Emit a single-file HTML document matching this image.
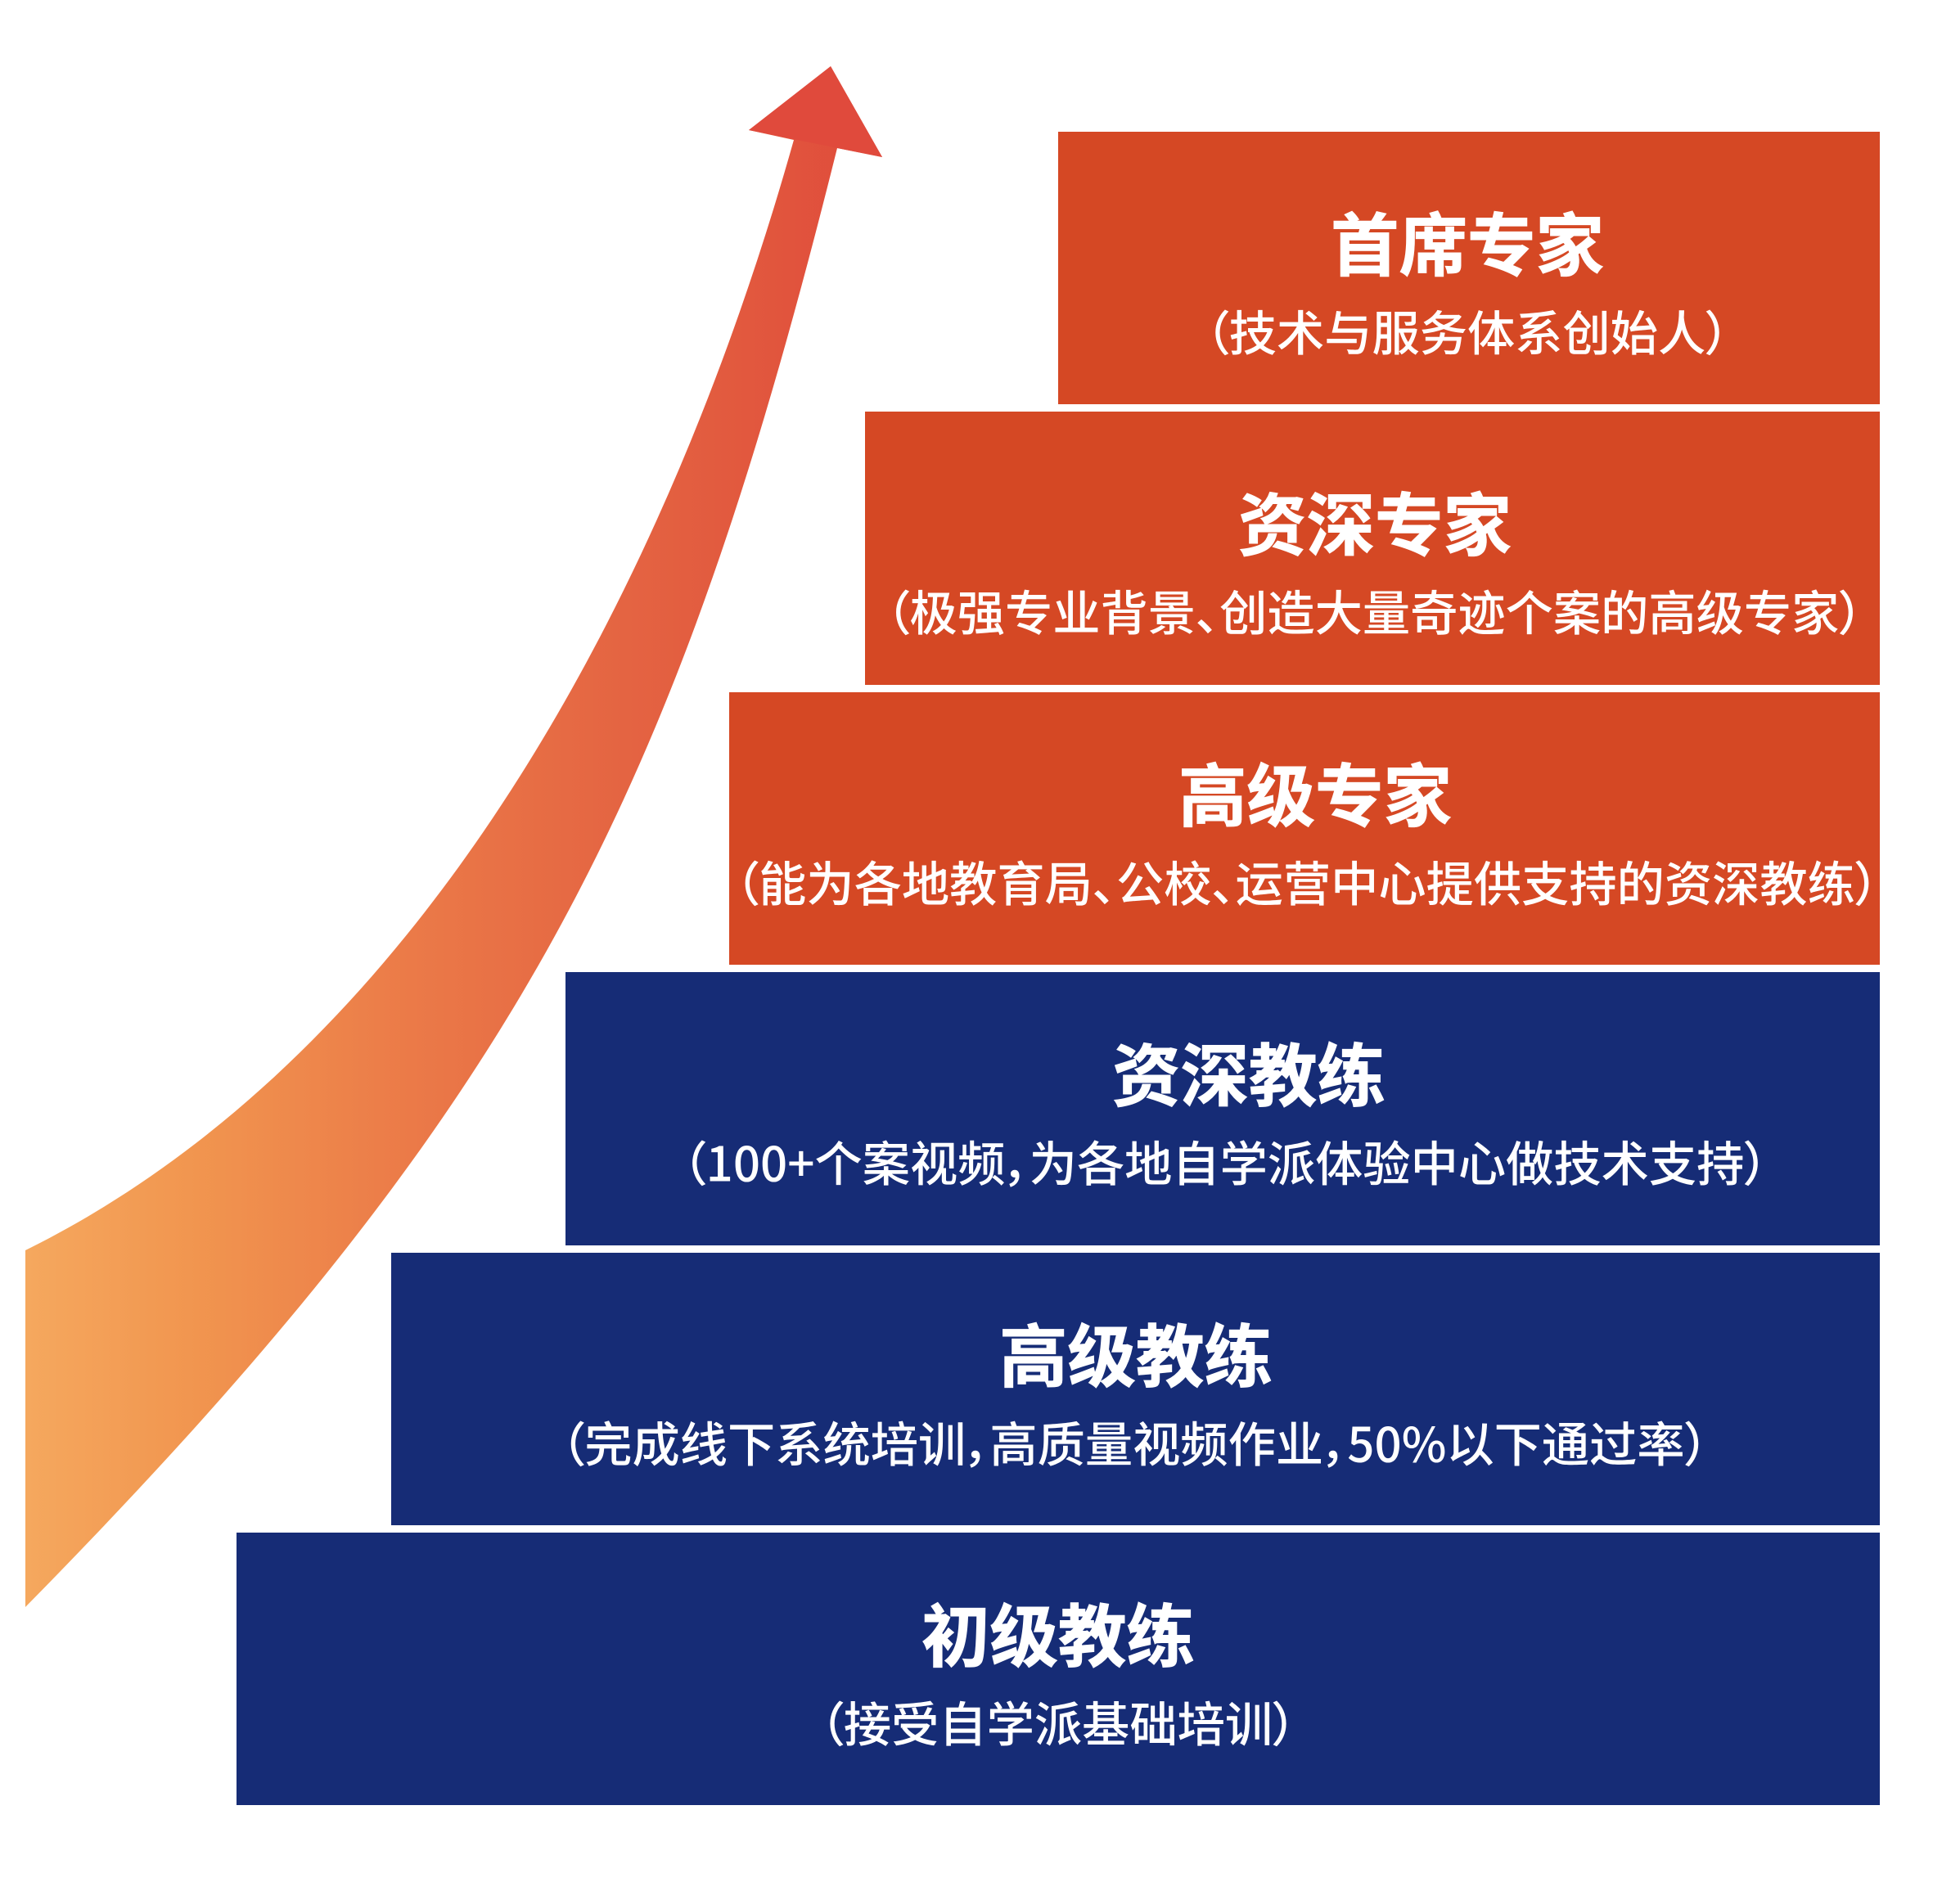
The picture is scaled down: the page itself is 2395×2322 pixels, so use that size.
<!DOCTYPE html>
<html lang="zh">
<head>
<meta charset="utf-8">
<style>
html,body{margin:0;padding:0;background:#fff;width:2395px;height:2322px;overflow:hidden}
svg{display:block}
text{fill:#fff;text-anchor:middle;font-family:"Noto Sans CJK SC","Liberation Sans",sans-serif;font-feature-settings:"palt" 1}
.t{font-size:83.5px;font-weight:700;stroke:#fff;stroke-width:1px}
.s{font-size:58.25px;font-weight:500}
</style>
</head>
<body>
<svg width="2395" height="2322" viewBox="0 0 2395 2322" xmlns="http://www.w3.org/2000/svg">
<defs>
<linearGradient id="g" gradientUnits="userSpaceOnUse" x1="31" y1="0" x2="1078" y2="0">
<stop offset="0" stop-color="#F5A85E"/>
<stop offset="0.2" stop-color="#F1954F"/>
<stop offset="0.45" stop-color="#EB7A48"/>
<stop offset="0.7" stop-color="#E46442"/>
<stop offset="0.88" stop-color="#E1553D"/>
<stop offset="1" stop-color="#E04A3C"/>
</linearGradient>
</defs>
<rect width="2395" height="2322" fill="#fff"/>
<path d="M31 1528 C502 1295 808 747 970 171 L915 159 L1015 81 L1078 192 L1023 181 C825 975 640 1345 31 1964 Z" fill="url(#g)"/>
<polygon points="915,159 1015,81 1078,192" fill="#E04A3C"/>

<rect x="1293" y="161" width="1004" height="333" fill="#D54824"/>
<rect x="1057" y="503" width="1240" height="334" fill="#D54824"/>
<rect x="891" y="846" width="1406" height="333" fill="#D54824"/>
<rect x="691" y="1188" width="1606" height="334" fill="#162C76"/>
<rect x="478" y="1531" width="1819" height="333" fill="#162C76"/>
<rect x="289" y="1873" width="2008" height="333" fill="#162C76"/>

<text class="t" x="1793" y="330">首席专家</text>
<text class="s" x="1793" y="428.5">（技术与服务体系创始人）</text>

<text class="t" x="1680" y="672">资深专家</text>
<text class="s" x="1679.5" y="770.5">（极强专业背景、创造大量奇迹个案的高级专家）</text>

<text class="t" x="1607" y="1003">高级专家</text>
<text class="s" x="1597" y="1101.5">（能为各地教育局、公校、运营中心提供支持的资深教练）</text>

<text class="t" x="1526" y="1345">资深教练</text>
<text class="s" x="1497" y="1443.5">（100+个案视频，为各地自学派体验中心做技术支持）</text>

<text class="t" x="1388" y="1688">高级教练</text>
<text class="s" x="1386.5" y="1786.5">（完成线下系统培训，高质量视频作业，50%以下通过率）</text>

<text class="t" x="1293" y="2030">初级教练</text>
<text class="s" x="1293" y="2128.5">（接受自学派基础培训）</text>
</svg>
</body>
</html>
